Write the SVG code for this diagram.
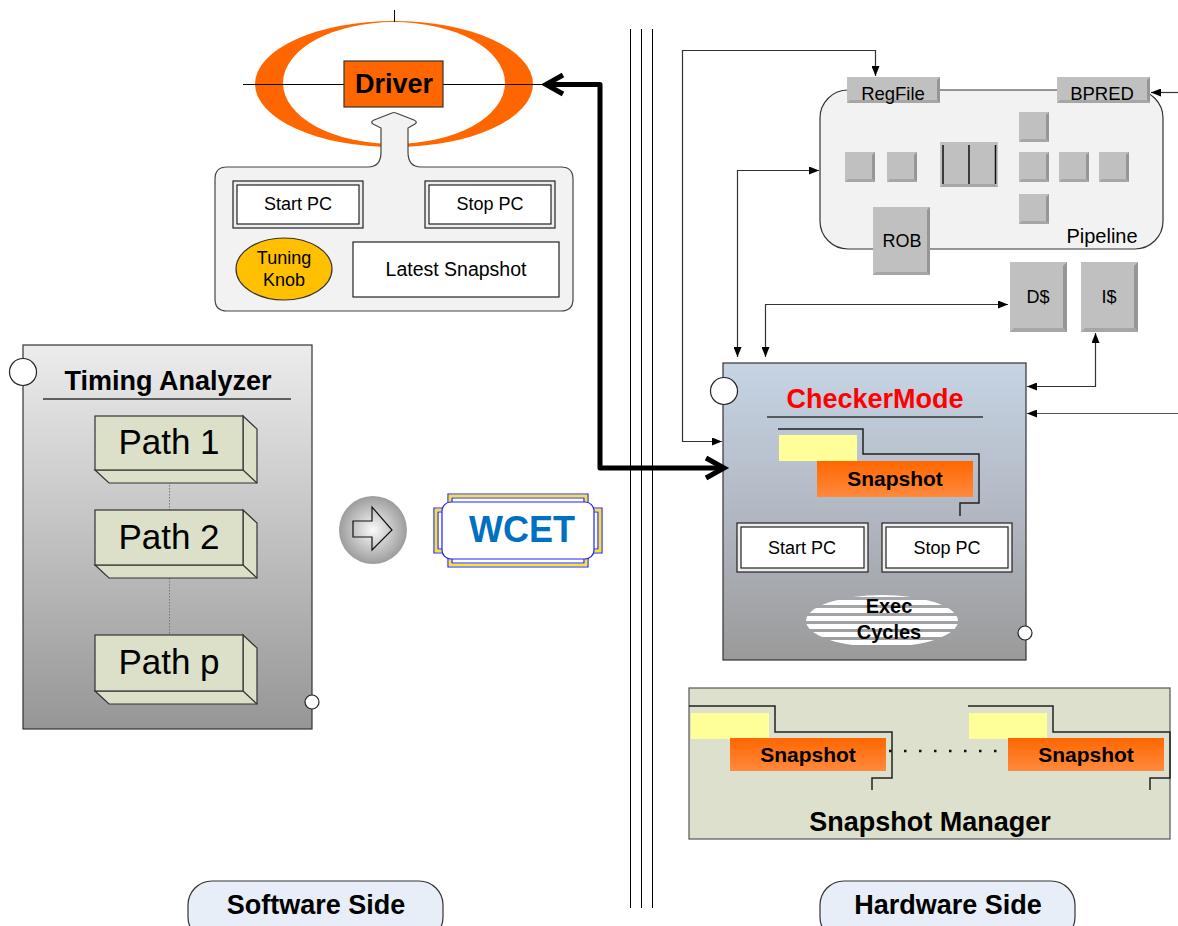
<svg xmlns="http://www.w3.org/2000/svg" width="1178" height="926" viewBox="0 0 1178 926">
<defs>
<style>
text{font-family:"Liberation Sans",Arial,sans-serif;fill:#000}
.b{font-weight:bold}
.c{text-anchor:middle}
.gb{fill:#C0C0C0}
.gr{fill:#969696}
.gbt{fill:#A6A6A6}
.wb{fill:#fff;stroke:#222;stroke-width:1.2}
.path3d{fill:#DDE0C8;stroke:#333;stroke-width:1.2}
.orange{fill:url(#og)}
.yel{fill:#FFFF99}
.step{fill:none;stroke:#222;stroke-width:1.5}
</style>
<linearGradient id="tag" x1="0" y1="0" x2="0" y2="1"><stop offset="0" stop-color="#ECECEC"/><stop offset="1" stop-color="#969696"/></linearGradient>
<linearGradient id="cmg" x1="0" y1="0" x2="0" y2="1"><stop offset="0" stop-color="#C6D4E4"/><stop offset="0.5" stop-color="#B2B8C2"/><stop offset="1" stop-color="#9A9A9A"/></linearGradient>
<linearGradient id="og" x1="0" y1="0" x2="0" y2="1"><stop offset="0" stop-color="#FF6600"/><stop offset="1" stop-color="#FF8A3D"/></linearGradient>
<radialGradient id="cg" cx="0.5" cy="0.5" r="0.5"><stop offset="0" stop-color="#FAFAFA"/><stop offset="1" stop-color="#9C9C9C"/></radialGradient>
<pattern id="stripes" width="10" height="8" patternUnits="userSpaceOnUse"><rect width="10" height="5" fill="#fff"/></pattern>
<clipPath id="ec"><ellipse cx="882" cy="621" rx="76" ry="26"/></clipPath>
<marker id="ah" viewBox="0 0 10 8" refX="10" refY="4" markerWidth="11" markerHeight="8" markerUnits="userSpaceOnUse" orient="auto-start-reverse"><path d="M0,0 L10,4 L0,8 z" fill="#000"/></marker>
</defs>

<rect width="1178" height="926" fill="#fff"/>

<!-- divider -->
<g id="divider" stroke="#000" stroke-width="1">
<line x1="630.5" y1="29" x2="630.5" y2="908"/>
<line x1="641.5" y1="29" x2="641.5" y2="908"/>
<line x1="652.5" y1="29" x2="652.5" y2="908"/>
</g>

<!-- Driver -->
<g id="driver">
<ellipse cx="394" cy="84" rx="139" ry="63" fill="#FF6600"/>
<ellipse cx="394" cy="83" rx="111" ry="61" fill="#fff"/>
<line x1="394.5" y1="10" x2="394.5" y2="22" stroke="#000"/>
<line x1="243" y1="84.5" x2="545" y2="84.5" stroke="#000"/>
<rect x="344" y="61" width="99" height="46" fill="#FF6600" stroke="#333" stroke-width="1.2"/>
<text x="394" y="93" class="b c" font-size="27">Driver</text>
</g>

<!-- Driver settings panel -->
<g id="settings">
<path d="M227,167 H368 Q381,167 381,152 V128 L373,124 Q370,122 374,120 L392,113 Q394,112 396,113 L414,120 Q418,122 415,124 L408,128 V152 Q408,167 421,167 H561 Q573,167 573,179 V299 Q573,311 561,311 H227 Q215,311 215,299 V179 Q215,167 227,167 Z" fill="#F2F2F2" stroke="#444" stroke-width="1.2"/>
<rect x="233" y="181" width="130" height="47" fill="#EEE" stroke="#222" stroke-width="1.2"/>
<rect x="237" y="185" width="122" height="39" class="wb"/>
<text x="298" y="210" class="c" font-size="18">Start PC</text>
<rect x="425" y="181" width="130" height="47" fill="#EEE" stroke="#222" stroke-width="1.2"/>
<rect x="429" y="185" width="122" height="39" class="wb"/>
<text x="490" y="210" class="c" font-size="18">Stop PC</text>
<ellipse cx="284" cy="269" rx="48" ry="31" fill="#FFC000" stroke="#333" stroke-width="1.2"/>
<text x="284" y="264" class="c" font-size="18">Tuning</text>
<text x="284" y="286" class="c" font-size="18">Knob</text>
<rect x="353" y="242" width="206" height="55" class="wb"/>
<text x="456" y="276" class="c" font-size="19.5">Latest Snapshot</text>
</g>

<!-- Timing Analyzer -->
<g id="timing-analyzer">
<rect x="23" y="345" width="289" height="384" fill="url(#tag)" stroke="#333" stroke-width="1.2"/>
<circle cx="23" cy="372" r="13.5" fill="#fff" stroke="#222" stroke-width="1.2"/>
<circle cx="312" cy="702" r="7" fill="#fff" stroke="#222" stroke-width="1.2"/>
<text x="168" y="390" class="b c" font-size="27">Timing Analyzer</text>
<line x1="43" y1="399" x2="291" y2="399" stroke="#333" stroke-width="1.5"/>
<line x1="169.5" y1="470" x2="169.5" y2="635" stroke="#777" stroke-width="1" stroke-dasharray="1.5,1.5"/>
</g>
<g id="path1">
<path class="path3d" d="M243,416 L257,429 V483 H109 L95,470 H243 Z"/>
<path class="path3d" d="M243,470 L257,483"/>
<rect x="95" y="416" width="148" height="54" class="path3d"/>
<text x="169" y="454" class="c" font-size="35">Path 1</text>
</g>
<g id="path2">
<path class="path3d" d="M243,510 L257,523 V578 H109 L95,565 H243 Z"/>
<path class="path3d" d="M243,565 L257,578"/>
<rect x="95" y="510" width="148" height="55" class="path3d"/>
<text x="169" y="549" class="c" font-size="35">Path 2</text>
</g>
<g id="pathp">
<path class="path3d" d="M243,635 L257,648 V704 H109 L95,691 H243 Z"/>
<path class="path3d" d="M243,691 L257,704"/>
<rect x="95" y="635" width="148" height="56" class="path3d"/>
<text x="169" y="674" class="c" font-size="35">Path p</text>
</g>

<!-- arrow circle -->
<g id="result-arrow">
<circle cx="373" cy="530" r="34" fill="url(#cg)"/>
<path d="M353,521 H372 V507 L392,530 L372,550 V537 H353 Z" fill="none" stroke="#111" stroke-width="1.2"/>
</g>

<!-- WCET -->
<g id="wcet">
<path d="M448,494 H588 V508 H602 V553 H588 V567 H448 V553 H434 V508 H448 Z" fill="none" stroke="#2020FF" stroke-width="1.2"/>
<path d="M450,496 H586 V510 H600 V551 H586 V565 H450 V551 H436 V510 H450 Z" fill="none" stroke="#FFE800" stroke-width="2.2"/>
<path d="M452,498 H584 V512 H598 V549 H584 V563 H452 V549 H438 V512 H452 Z" fill="none" stroke="#2020FF" stroke-width="1.2"/>
<rect x="442" y="502" width="152" height="57" rx="9" fill="#fff" stroke="#2020FF" stroke-width="1.2"/>
<text x="522" y="542" class="b c" font-size="36" style="fill:#0070C0">WCET</text>
</g>

<!-- Pipeline -->
<g id="pipeline">
<rect x="820" y="90" width="343" height="159" rx="28" fill="#F2F2F2" stroke="#333" stroke-width="1.2"/>
<text x="1102" y="243" class="c" font-size="20">Pipeline</text>
<g id="stage-squares">
<rect x="845" y="152" width="30" height="30" class="gb"/><path class="gr" d="M875,152 V182 L872,179 V155 Z"/><path class="gbt" d="M845,182 H875 L872,179 H848 Z"/>
<rect x="887" y="152" width="30" height="30" class="gb"/><path class="gr" d="M917,152 V182 L914,179 V155 Z"/><path class="gbt" d="M887,182 H917 L914,179 H890 Z"/>
<rect x="1019" y="112" width="30" height="30" class="gb"/><path class="gr" d="M1049,112 V142 L1046,139 V115 Z"/><path class="gbt" d="M1019,142 H1049 L1046,139 H1022 Z"/>
<rect x="1019" y="152" width="30" height="30" class="gb"/><path class="gr" d="M1049,152 V182 L1046,179 V155 Z"/><path class="gbt" d="M1019,182 H1049 L1046,179 H1022 Z"/>
<rect x="1019" y="194" width="30" height="30" class="gb"/><path class="gr" d="M1049,194 V224 L1046,221 V197 Z"/><path class="gbt" d="M1019,224 H1049 L1046,221 H1022 Z"/>
<rect x="1059" y="152" width="30" height="30" class="gb"/><path class="gr" d="M1089,152 V182 L1086,179 V155 Z"/><path class="gbt" d="M1059,182 H1089 L1086,179 H1062 Z"/>
<rect x="1099" y="152" width="30" height="30" class="gb"/><path class="gr" d="M1129,152 V182 L1126,179 V155 Z"/><path class="gbt" d="M1099,182 H1129 L1126,179 H1102 Z"/>
<rect x="940" y="142" width="58" height="45" class="gb"/><path class="gbt" d="M940,187 H998 L995,184 H943 Z"/>
<g stroke="#111" stroke-width="1.5"><line x1="943" y1="145" x2="943" y2="184"/><line x1="969" y1="145" x2="969" y2="184"/><line x1="995.5" y1="145" x2="995.5" y2="184"/></g>
</g>
</g>
<g id="regfile">
<rect x="847" y="77" width="93" height="26" class="gb"/><path class="gr" d="M940,77 V103 L937,100 V80 Z"/><path class="gbt" d="M847,103 H940 L937,100 H850 Z"/>
<text x="893" y="100" class="c" font-size="18.5">RegFile</text>
</g>
<g id="bpred">
<rect x="1057" y="77" width="93" height="26" class="gb"/><path class="gr" d="M1150,77 V103 L1147,100 V80 Z"/><path class="gbt" d="M1057,103 H1150 L1147,100 H1060 Z"/>
<text x="1102" y="100" class="c" font-size="18.5">BPRED</text>
</g>
<g id="rob">
<rect x="873" y="207" width="57" height="68" class="gb"/><path class="gr" d="M930,207 V275 L927,272 V210 Z"/><path class="gbt" d="M873,275 H930 L927,272 H876 Z"/>
<text x="902" y="247" class="c" font-size="18">ROB</text>
</g>
<g id="dcache">
<rect x="1010" y="262" width="57" height="70" class="gb"/><path class="gr" d="M1067,262 V332 L1063,328 V266 Z"/><path class="gbt" d="M1010,332 H1067 L1063,328 H1014 Z"/>
<text x="1038" y="303" class="c" font-size="18">D$</text>
</g>
<g id="icache">
<rect x="1081" y="262" width="57" height="70" class="gb"/><path class="gr" d="M1138,262 V332 L1134,328 V266 Z"/><path class="gbt" d="M1081,332 H1138 L1134,328 H1085 Z"/>
<text x="1109" y="303" class="c" font-size="18">I$</text>
</g>

<!-- CheckerMode -->
<g id="checkermode">
<rect x="723" y="363" width="303" height="297" fill="url(#cmg)" stroke="#333" stroke-width="1.2"/>
<circle cx="724" cy="391" r="13.5" fill="#fff" stroke="#222" stroke-width="1.2"/>
<circle cx="1025" cy="633" r="7" fill="#fff" stroke="#222" stroke-width="1.2"/>
<text x="875" y="408" class="b c" font-size="27" style="fill:#FF0000">CheckerMode</text>
<line x1="767" y1="417" x2="983" y2="417" stroke="#333" stroke-width="1.5"/>
<path class="step" d="M778,429 H863 V454 H979 V503 H960 V516"/>
<rect x="779" y="435" width="78" height="26" class="yel"/>
<rect x="817" y="461" width="156" height="36" class="orange"/>
<text x="895" y="486" class="b c" font-size="21">Snapshot</text>
<rect x="737" y="523" width="131" height="49" fill="#EEE" stroke="#222" stroke-width="1.2"/>
<rect x="741" y="527" width="123" height="41" class="wb"/>
<text x="802" y="554" class="c" font-size="18">Start PC</text>
<rect x="882" y="523" width="130" height="49" fill="#EEE" stroke="#222" stroke-width="1.2"/>
<rect x="886" y="527" width="122" height="41" class="wb"/>
<text x="947" y="554" class="c" font-size="18">Stop PC</text>
<rect x="806" y="595" width="152" height="52" fill="url(#stripes)" clip-path="url(#ec)"/>
<text x="889" y="613" class="b c" font-size="20">Exec</text>
<text x="889" y="639" class="b c" font-size="20">Cycles</text>
</g>

<!-- Snapshot Manager -->
<g id="snapshot-manager">
<rect x="689" y="688" width="481" height="151" fill="#DDE0CC" stroke="#555" stroke-width="1.2"/>
<path class="step" d="M689,706 H775 V732 H892 V778 H872 V790"/>
<rect x="691" y="713" width="78" height="26" class="yel"/>
<rect x="730" y="738" width="156" height="33" class="orange"/>
<text x="808" y="762" class="b c" font-size="21">Snapshot</text>
<path class="step" d="M968,706 H1053 V732 H1170 V778 H1150 V790"/>
<rect x="969" y="713" width="78" height="26" class="yel"/>
<rect x="1008" y="738" width="156" height="33" class="orange"/>
<text x="1086" y="762" class="b c" font-size="21">Snapshot</text>
<line x1="886" y1="751" x2="1004" y2="751" stroke="#111" stroke-width="2.5" stroke-dasharray="2.5,12.5" stroke-dashoffset="-3"/>
<text x="930" y="831" class="b c" font-size="27">Snapshot Manager</text>
</g>

<!-- sides -->
<g id="software-side">
<rect x="188" y="881" width="255" height="60" rx="24" fill="#E8EEF7" stroke="#333" stroke-width="1.2"/>
<text x="316" y="914" class="b c" font-size="27">Software Side</text>
</g>
<g id="hardware-side">
<rect x="820" y="881" width="255" height="60" rx="24" fill="#E8EEF7" stroke="#333" stroke-width="1.2"/>
<text x="948" y="914" class="b c" font-size="27">Hardware Side</text>
</g>

<!-- connectors -->
<g id="connectors" fill="none">
<path d="M548,84.5 H600 V468 H722" stroke="#000" stroke-width="5" stroke-linejoin="round"/>
<polyline points="563,75 546,84.5 563,94" stroke="#000" stroke-width="5" stroke-linejoin="miter"/>
<polyline points="706,458 724,468 706,478" stroke="#000" stroke-width="5" stroke-linejoin="miter"/>
<path d="M722,441.5 H682.5 V50.5 H875.5 V76" stroke="#333" stroke-width="1.2" marker-start="url(#ah)" marker-end="url(#ah)"/>
<path d="M819,170.5 H737.5 V357" stroke="#333" stroke-width="1.2" marker-start="url(#ah)" marker-end="url(#ah)"/>
<path d="M1008,304.5 H765.5 V357" stroke="#333" stroke-width="1.2" marker-start="url(#ah)" marker-end="url(#ah)"/>
<path d="M1095.5,333 V386.5 H1027" stroke="#333" stroke-width="1.2" marker-start="url(#ah)" marker-end="url(#ah)"/>
<path d="M1178,413.5 H1027" stroke="#555" stroke-width="1.2" marker-end="url(#ah)"/>
<path d="M1178,92.5 H1151" stroke="#333" stroke-width="1.2" marker-end="url(#ah)"/>
</g>
</svg>
